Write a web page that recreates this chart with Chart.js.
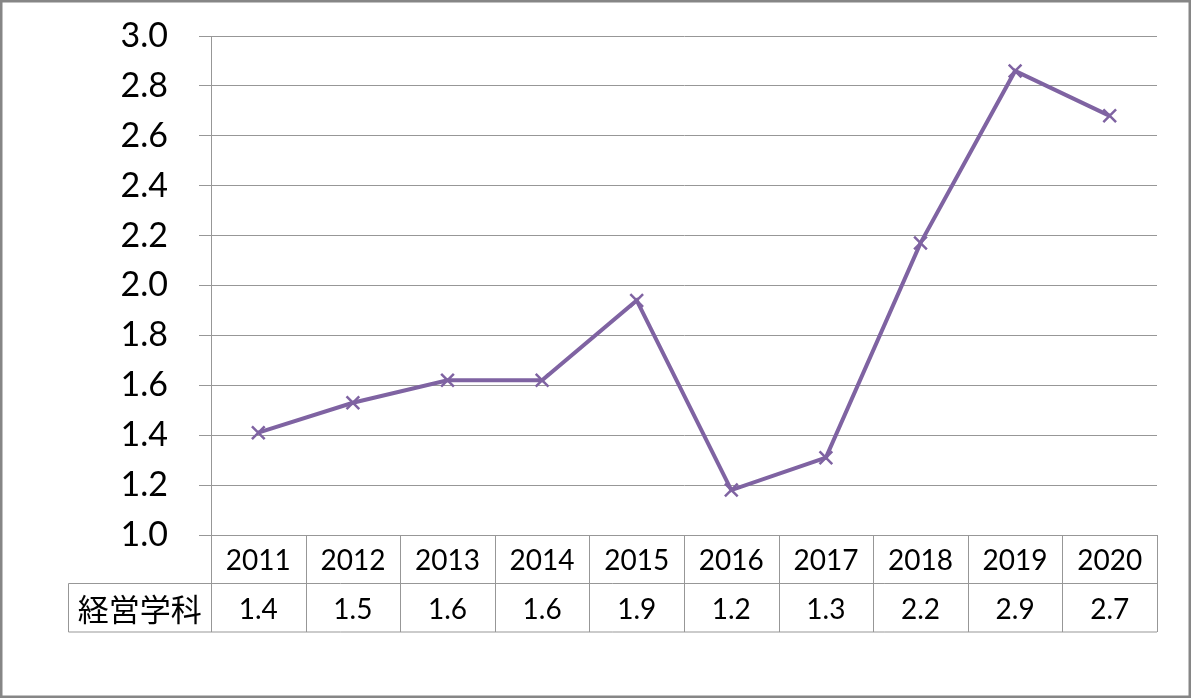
<!DOCTYPE html>
<html>
<head>
<meta charset="utf-8">
<script src="https://cdn.jsdelivr.net/npm/chart.js@4"></script>
<style>
  html, body { margin: 0; padding: 0; background: #fff; }
  canvas { display: block; }
</style>
</head>
<body>
<canvas id="chart" width="1194" height="699"></canvas>
<script>
// years and values
let years = ["2011", "2012", "2013", "2014", "2015", "2016", "2017", "2018", "2019", "2020"];
let seriesName = "経営学科";
let values = [1.41, 1.53, 1.62, 1.62, 1.94, 1.18, 1.31, 2.17, 2.86, 2.68];
let yTicks = [1.0, 1.2, 1.4, 1.6, 1.8, 2.0, 2.2, 2.4, 2.6, 2.8, 3.0];

let purple = "#7F63A2";
let gridGrey = "#979797";
let tableFont = "28px Lato, 'Noto Sans', sans-serif";

// draws the data table under the plot and the frame round the chart
let dataTable = {
    id: "dataTable",
    afterDraw: function(chart)
    {
        let ctx = chart.ctx;
        let x = chart.scales.x;
        let area = chart.chartArea;
        let colW = (area.right - area.left) / years.length;
        let row1Top = area.bottom;
        let rowH = 48.5;
        let row2Top = row1Top + rowH;
        let row2Bottom = row2Top + rowH;
        let legendLeft = 68.5;

        ctx.save();
        ctx.strokeStyle = gridGrey;
        ctx.lineWidth = 1;
        ctx.beginPath();
        // horizontal lines
        ctx.moveTo(area.left, row1Top + 0.5);
        ctx.lineTo(area.right, row1Top + 0.5);
        ctx.moveTo(legendLeft, row2Top);
        ctx.lineTo(area.right, row2Top);
        ctx.moveTo(legendLeft, row2Bottom);
        ctx.lineTo(area.right, row2Bottom);
        // vertical lines
        for (let i = 0; i <= years.length; i++)
        {
            let px = Math.round(area.left + i * colW) + 0.5;
            ctx.moveTo(px, row1Top);
            ctx.lineTo(px, row2Bottom);
        }
        ctx.moveTo(legendLeft, row2Top);
        ctx.lineTo(legendLeft, row2Bottom);
        ctx.stroke();

        ctx.fillStyle = "#000";
        ctx.textAlign = "center";
        ctx.textBaseline = "middle";
        ctx.font = tableFont;
        for (let i = 0; i < years.length; i++)
        {
            let cx = x.getPixelForValue(i);
            ctx.fillText(years[i], cx, row1Top + rowH / 2 + 2);
            ctx.fillText(values[i].toFixed(1), cx, row2Top + rowH / 2 + 2);
        }
        ctx.font = "31px 'Noto Sans CJK JP', sans-serif";
        ctx.fillText(seriesName, (legendLeft + area.left) / 2, row2Top + rowH / 2 + 1);

        // outer frame
        ctx.strokeStyle = "#868686";
        ctx.lineWidth = 2.5;
        ctx.strokeRect(1.25, 1.25, 1188.5, 695.5);
        ctx.restore();
    }
};

let myChart = document.getElementById("chart").getContext("2d");
let display = new Chart(myChart,
{
    type: "line",
    data:
    {
        labels: years,
        datasets: [
            {
                label: seriesName,
                data: values,
                borderColor: purple,
                backgroundColor: purple,
                borderWidth: 4,
                tension: 0,
                pointStyle: "crossRot",
                pointRadius: 9,
                pointBorderWidth: 2.5,
                pointBorderColor: purple
            }
        ]
    },
    options:
    {
        responsive: false,
        devicePixelRatio: 1,
        animation: false,
        layout: { padding: { left: 0, top: 36, right: 37, bottom: 164 } },
        plugins:
        {
            legend: { display: false },
            tooltip: { enabled: false }
        },
        scales:
        {
            x:
            {
                type: "category",
                offset: true,
                display: false
            },
            y:
            {
                min: yTicks[0],
                max: yTicks[yTicks.length - 1],
                afterBuildTicks: function(scale)
                {
                    scale.ticks = yTicks.map(function(v) { return { value: v }; });
                },
                afterFit: function(scale)
                {
                    scale.width = 211;
                    scale.paddingTop = 0;
                    scale.paddingBottom = 0;
                },
                ticks:
                {
                    color: "#000",
                    padding: 31,
                    font: { family: "Lato, 'Noto Sans', sans-serif", size: 34 },
                    callback: function(v) { return Number(v).toFixed(1); }
                },
                grid:
                {
                    color: gridGrey,
                    lineWidth: 1,
                    tickLength: 12,
                    drawTicks: true
                },
                border: { display: true, color: gridGrey, width: 1 }
            }
        }
    },
    plugins: [dataTable]
});
</script>
</body>
</html>
